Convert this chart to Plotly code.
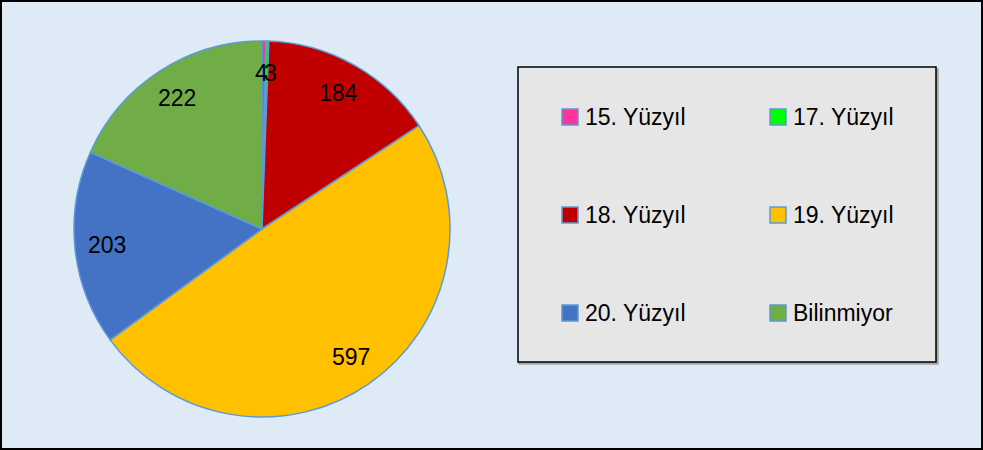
import numpy as np
import plotly.graph_objects as go

labels = ["15. Yüzyıl", "17. Yüzyıl", "18. Yüzyıl", "19. Yüzyıl", "20. Yüzyıl", "Bilinmiyor"]
values = [4, 3, 184, 597, 203, 222]
colors = ["#FF3399", "#00FF00", "#C00000", "#FFC000", "#4472C4", "#70AD47"]

W, H = 983, 450
FONT = "Liberation Sans"
FS = 23

# pie placement (pixels)
PX0, PX1, PY0, PY1 = 74, 450, 41, 417
CX, CY, R = (PX0 + PX1) / 2, (PY0 + PY1) / 2, (PX1 - PX0) / 2
# small horizontal nudges for the crowded labels of the two tiny slices
label_xshift = [-2, 4, 0, 0, 0, 0]

fig = go.Figure()
fig.add_trace(go.Pie(
    labels=labels, values=values, sort=False, direction="clockwise", rotation=0,
    marker=dict(colors=colors, line=dict(color="#5B9BD5", width=1.5)),
    textinfo="none",
    domain=dict(x=[PX0 / W, PX1 / W], y=[1 - PY1 / H, 1 - PY0 / H]),
    showlegend=False, hoverinfo="label+value+percent",
))

# data labels placed at the slice mid-angles (as Excel does, near the outer edge)
vals = np.array(values, dtype=float)
cum = np.cumsum(vals)
mid = (cum - vals / 2) / vals.sum() * 2 * np.pi
annotations = []
for v, a, xs in zip(values, mid, label_xshift):
    rr = R * 0.83
    x = CX + rr * np.sin(a)
    y = CY - rr * np.cos(a)
    annotations.append(dict(xref="paper", yref="paper", x=x / W, y=1 - y / H, text=str(v),
                            showarrow=False, xanchor="center", yanchor="middle", xshift=xs,
                            font=dict(family=FONT, size=FS, color="#000000")))

shapes = [
    dict(type="rect", xref="paper", yref="paper", x0=1 / W, x1=1 - 1 / W, y0=1 / H, y1=1 - 1 / H,
         line=dict(color="#000000", width=2), fillcolor="rgba(0,0,0,0)", layer="below"),
    dict(type="rect", xref="paper", yref="paper", x0=519 / W, x1=938 / W, y0=1 - 364 / H, y1=1 - 69 / H,
         line=dict(color="#A6A6A6", width=1.5), fillcolor="#A6A6A6", layer="below"),
    dict(type="rect", xref="paper", yref="paper", x0=518 / W, x1=936 / W, y0=1 - 362 / H, y1=1 - 67 / H,
         line=dict(color="#000000", width=1.5), fillcolor="#E7E6E6", layer="below"),
]
col_x = [562, 770]
row_y = [117, 215, 313]
for i, (lab, col) in enumerate(zip(labels, colors)):
    cx = col_x[i % 2]
    cy = row_y[i // 2]
    shapes.append(dict(type="rect", xref="paper", yref="paper",
                       x0=cx / W, x1=(cx + 16) / W, y0=1 - (cy + 8) / H, y1=1 - (cy - 8) / H,
                       line=dict(color="#5B9BD5", width=1.5), fillcolor=col))
    annotations.append(dict(xref="paper", yref="paper", x=(cx + 21) / W, y=1 - cy / H,
                            text=lab, showarrow=False, xanchor="left", yanchor="middle",
                            font=dict(family=FONT, size=FS, color="#000000")))

fig.update_layout(
    width=W, height=H, margin=dict(l=0, r=0, t=0, b=0),
    paper_bgcolor="#DEEAF6", plot_bgcolor="#DEEAF6",
    shapes=shapes, annotations=annotations,
)
fig.write_html("out.html", config={"displayModeBar": False},
               post_script="document.body.style.margin='0';document.body.style.overflow='hidden';")
